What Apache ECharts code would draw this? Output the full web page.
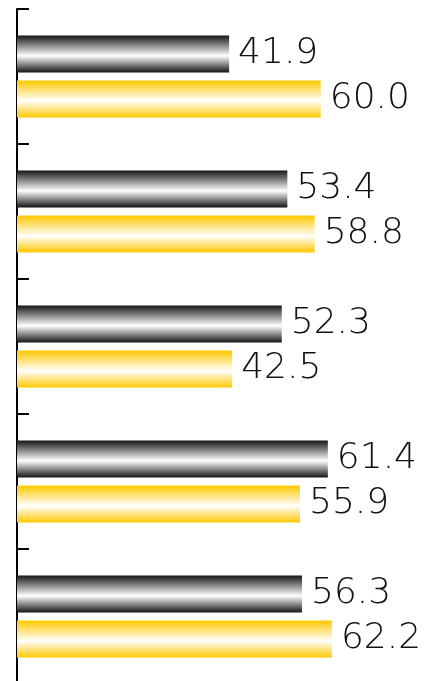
<!DOCTYPE html>
<html><head><meta charset="utf-8">
<script src="https://cdn.jsdelivr.net/npm/echarts@6/dist/echarts.min.js"></script>
<style>html,body{margin:0;padding:0;background:#fff;overflow:hidden;width:435px;height:681px}#c{width:435px;height:700px}</style>
</head><body><div id="c"></div>
<script>
var categories = ['A', 'B', 'C', 'D', 'E'];
var darkValues = [41.9, 53.4, 52.3, 61.4, 56.3];
var goldValues = [60.0, 58.8, 42.5, 55.9, 62.2];

function grad(edge) {
  return new echarts.graphic.LinearGradient(0, 0, 0, 1, [
    {offset: 0, color: edge},
    {offset: 0.55, color: '#ffffff'},
    {offset: 1, color: edge}
  ]);
}
var labelStyle = {
  show: true, position: 'right', distance: 9,
  fontFamily: 'DejaVu Sans', fontWeight: 200, fontSize: 36, color: '#111',
  formatter: function (p) { return p.value.toFixed(1); }
};
var chart = echarts.init(document.getElementById('c'), null, {renderer: 'canvas'});
chart.setOption({
  animation: false,
  grid: {left: 17, right: 13, top: 9, bottom: 16, containLabel: false},
  xAxis: {type: 'value', min: 0, max: 80, show: false},
  yAxis: {
    type: 'category', data: categories, inverse: true,
    axisLine: {show: true, lineStyle: {color: '#000', width: 2}},
    axisTick: {show: true, inside: true, length: 12, lineStyle: {color: '#000', width: 2}},
    axisLabel: {show: false}
  },
  series: [
    {type: 'bar', data: darkValues, barWidth: 37, barGap: '22%',
     itemStyle: {color: grad('#151515')}, label: labelStyle},
    {type: 'bar', data: goldValues, barWidth: 37,
     itemStyle: {color: grad('#ffc800')}, label: labelStyle}
  ]
});
</script></body></html>
